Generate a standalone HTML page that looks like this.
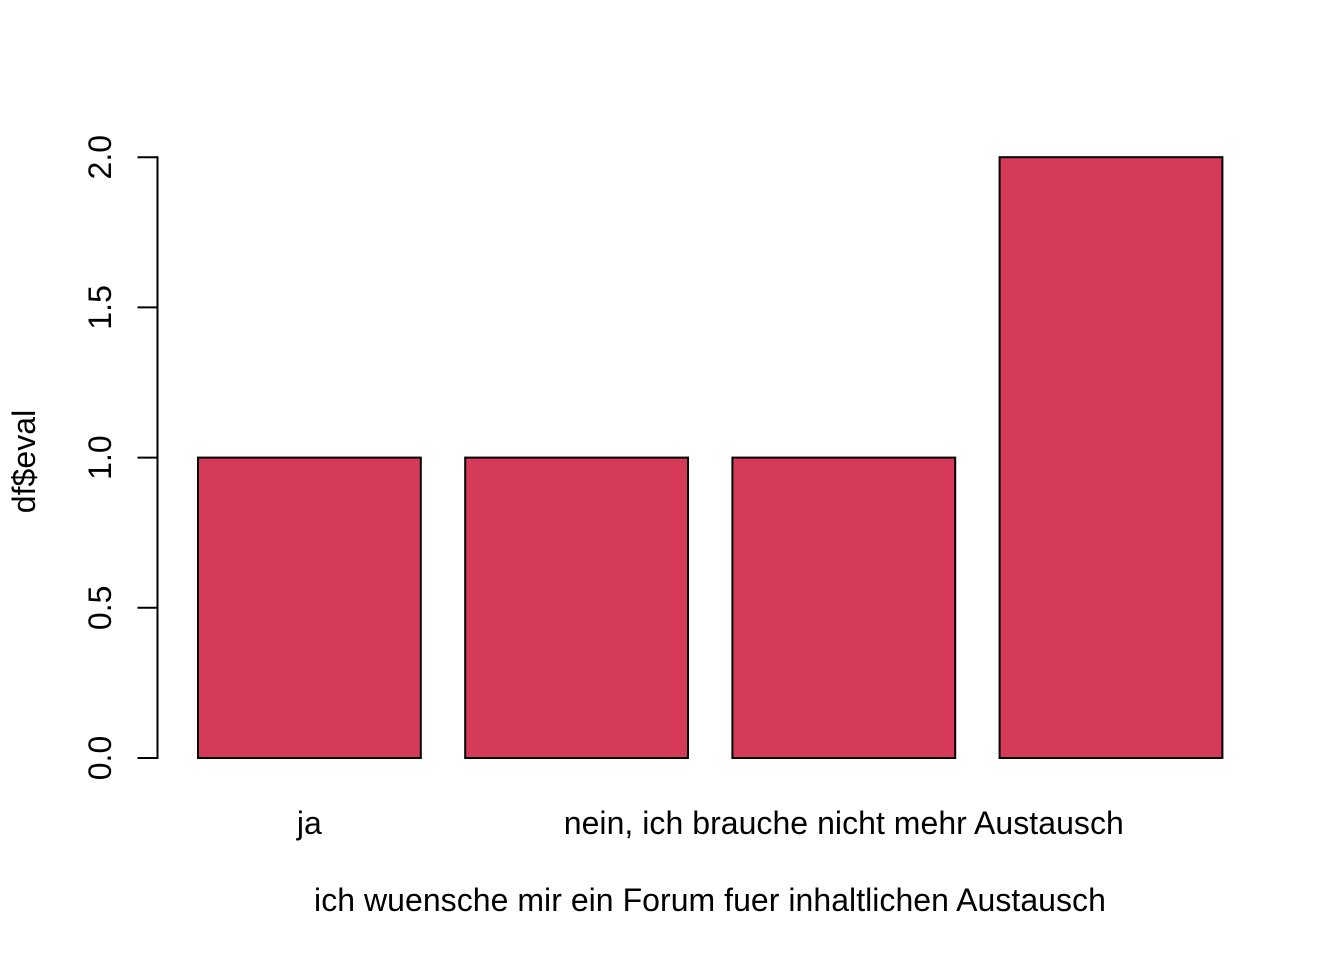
<!DOCTYPE html>
<html lang="de">
<head>
<meta charset="utf-8">
<title>Bar chart</title>
<style>
html,body{margin:0;padding:0;background:#fff;width:1344px;height:960px;overflow:hidden}
svg{display:block}
text{font-family:"Liberation Sans",Arial,sans-serif;font-size:32px;fill:#000;letter-spacing:0.04px}
</style>
</head>
<body>
<svg id="chart" width="1344" height="960" viewBox="0 0 1344 960" xmlns="http://www.w3.org/2000/svg"></svg>
<script>
const barValues = [1, 1, 1, 2];
const yTickValues = [0, 0.5, 1, 1.5, 2];
const yTickLabels = ["0.0", "0.5", "1.0", "1.5", "2.0"];
const xLabels = ["ja", "", "nein, ich brauche nicht mehr Austausch", ""];
const xAxisTitle = "ich wuensche mir ein Forum fuer inhaltlichen Austausch";
const yAxisTitle = "df$eval";

const NS = "http://www.w3.org/2000/svg";
const svg = document.getElementById("chart");
const y0 = 758, yPerUnit = 300.4;
const firstBarLeft = 198, barWidth = 222.8, barStep = 267.2;
const axisX = 157.5;
function yScale(v){ return y0 - v * yPerUnit; }
function xLeft(i){ return firstBarLeft + i * barStep; }

barValues.forEach(function(value, i){
  const r = document.createElementNS(NS, "rect");
  r.setAttribute("x", xLeft(i));
  r.setAttribute("y", yScale(value));
  r.setAttribute("width", barWidth);
  r.setAttribute("height", y0 - yScale(value));
  r.setAttribute("fill", "#D53B59");
  r.setAttribute("stroke", "#000");
  r.setAttribute("stroke-width", "2");
  
  
  svg.appendChild(r);
});

const axisLine = document.createElementNS(NS, "line");
axisLine.setAttribute("x1", axisX);
axisLine.setAttribute("x2", axisX);
axisLine.setAttribute("y1", yScale(yTickValues[0]) + 1);
axisLine.setAttribute("y2", yScale(yTickValues[yTickValues.length - 1]) - 1);
axisLine.setAttribute("stroke", "#000");
axisLine.setAttribute("stroke-width", "2");


svg.appendChild(axisLine);

yTickValues.forEach(function(v, i){
  const t = document.createElementNS(NS, "line");
  t.setAttribute("x1", axisX - 20);
  t.setAttribute("x2", axisX);
  t.setAttribute("y1", yScale(v));
  t.setAttribute("y2", yScale(v));
  t.setAttribute("stroke", "#000");
  t.setAttribute("stroke-width", "2");
  
  
  svg.appendChild(t);

  const l = document.createElementNS(NS, "text");
  l.setAttribute("transform", "translate(111 " + yScale(v) + ") rotate(-90)");
  l.setAttribute("text-anchor", "middle");
  l.textContent = yTickLabels[i];
  
  
  svg.appendChild(l);
});

xLabels.forEach(function(label, i){
  if (!label) return;
  const l = document.createElementNS(NS, "text");
  l.setAttribute("x", xLeft(i) + barWidth / 2);
  l.setAttribute("y", 834);
  l.setAttribute("text-anchor", "middle");
  l.textContent = label;
  
  
  svg.appendChild(l);
});

const xt = document.createElementNS(NS, "text");
xt.setAttribute("x", 710);
xt.setAttribute("y", 911);
xt.setAttribute("text-anchor", "middle");
xt.textContent = xAxisTitle;


svg.appendChild(xt);

const yt = document.createElementNS(NS, "text");
yt.setAttribute("transform", "translate(35 461.5) rotate(-90)");
yt.setAttribute("text-anchor", "middle");
yt.textContent = yAxisTitle;


svg.appendChild(yt);
</script>
</body>
</html>
